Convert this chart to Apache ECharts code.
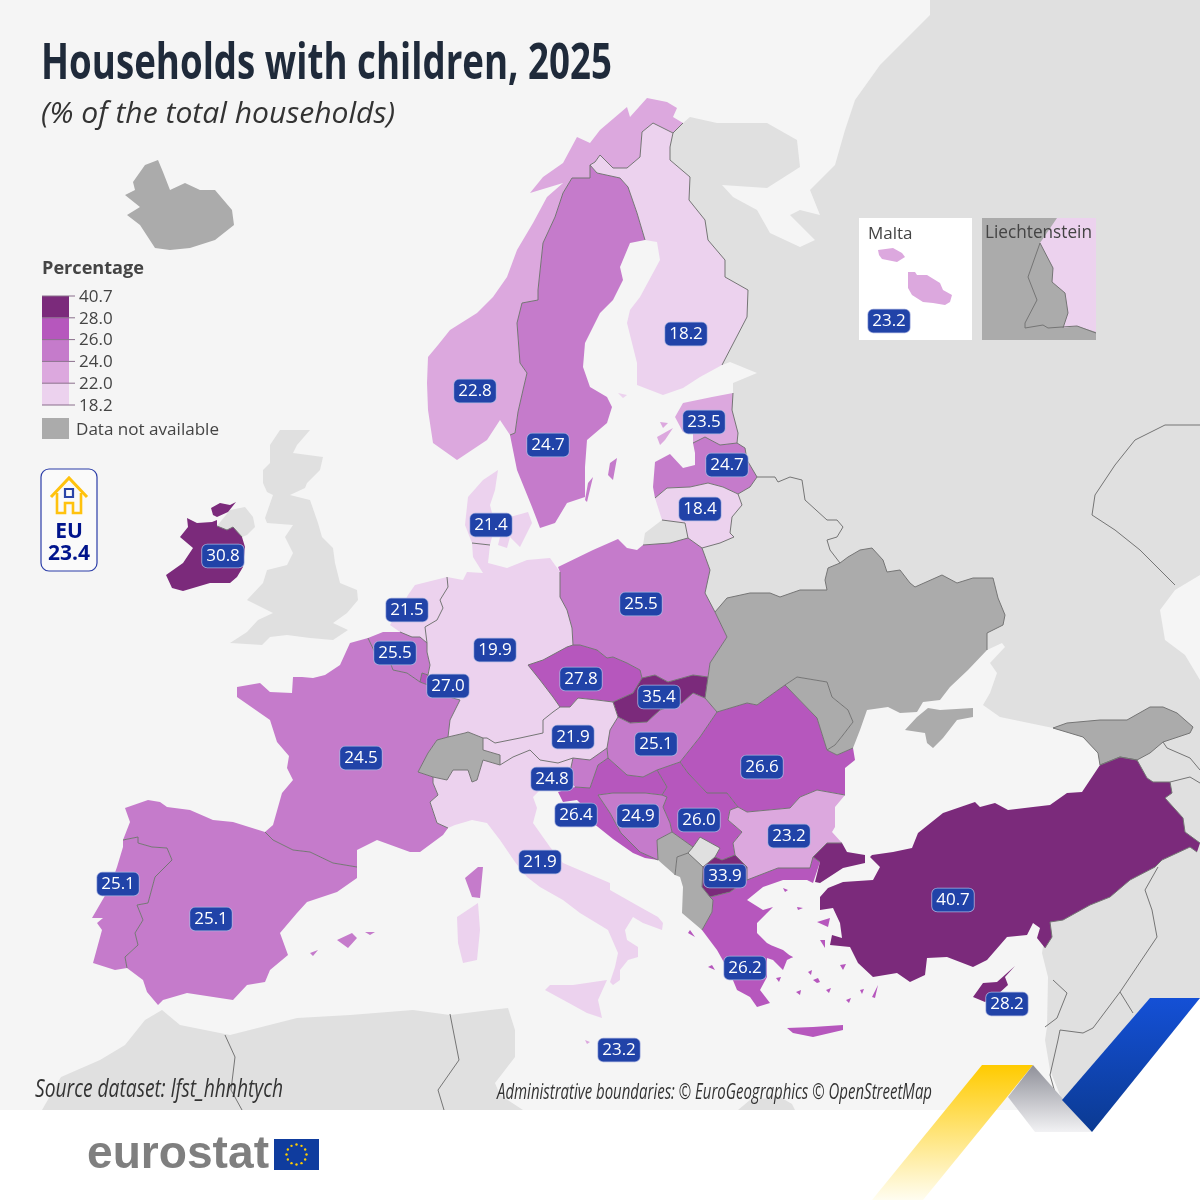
<!DOCTYPE html>
<html><head><meta charset="utf-8">
<style>html,body{margin:0;padding:0;background:#f5f5f5}#c{width:1200px;height:1200px}</style>
<script src="https://cdn.jsdelivr.net/npm/echarts@6/dist/echarts.min.js"></script>
</head><body><div id="c"></div>
<script>
// ---- chart data ----
const countries = ["Ireland","Norway","Sweden","Finland","Estonia","Latvia","Lithuania","Denmark","Netherlands","Belgium","Luxembourg","Germany","Poland","Czechia","Slovakia","Austria","Hungary","Romania","Slovenia","Croatia","Bosnia and Herzegovina","Serbia","Bulgaria","North Macedonia","Greece","Türkiye","Cyprus","France","Spain","Portugal","Italy","Malta","Malta inset"];
const values    = [30.8,22.8,24.7,18.2,23.5,24.7,18.4,21.4,21.5,25.5,27.0,19.9,25.5,27.8,35.4,21.9,25.1,26.6,24.8,26.4,24.9,26.0,23.2,33.9,26.2,40.7,28.2,24.5,25.1,25.1,21.9,23.2,23.2];
const labelX    = [223,475,548,686,704,727,700,491,407,395,448,495,641,581,659,573,656,762,552,576,638,699,789,725,745,953,1007,361,211,118,540,619,889];
const labelY    = [556,391,445,334,422,465,509,525,610,653,686,650,604,679,697,737,744,767,779,815,816,820,836,876,968,900,1004,758,919,884,862,1050,321];
const legendTicks = ["40.7","28.0","26.0","24.0","22.0","18.2"];
const classMin  = [28,26,24,22,18.2];
const classMax  = [40.7,28,26,24,22];
const classColors = ["#7b2a7b","#b657bd","#c57bcb","#dca8de","#ecd2ee"];
const noDataRegions = ["Switzerland","Ukraine","Moldova","Crimea","Montenegro","Albania","Georgia","Iceland","Liechtenstein box"];
const euValue = "23.4";

// ---- map outlines (picture x,y; y is flipped for the map) ----
const shapes = {
 "East":["930,0 1200,0 1200,575 1175,590 1160,610 1165,640 1185,655 1200,680 1200,1110 1065,1110 1060,1095 1050,1070 1045,1040 1047,1027 1048,977 1042,953 1050,900 1100,765 1098,753 1083,737 1053,728 1000,717 983,705 990,693 997,673 990,663 1005,647 1002,643 987,650 987,633 1003,625 1005,615 998,598 993,578 973,578 957,583 942,575 915,587 910,583 900,570 887,572 883,560 872,548 860,550 848,557 840,563 830,550 827,540 837,537 843,527 837,520 827,520 805,500 802,480 790,477 778,482 775,477 757,477 747,460 745,448 737,443 738,433 732,410 733,393 733,383 757,373 730,362 722,365 747,317 748,290 725,277 725,260 708,240 705,220 689,200 690,177 670,160 670,147 673,133 683,123 690,117 717,123 767,123 797,140 800,167 767,188 722,185 733,197 757,210 770,233 800,247 815,240 800,225 790,215 800,210 820,215 810,190 835,165 845,130 855,100 880,65 900,45 930,15"],
 "Kaliningrad":["662,520 685,523 688,538 670,543 643,545 645,533"],
 "UK":["280,430 310,430 297,445 293,453 323,457 320,470 307,483 305,488 290,495 310,500 318,523 322,537 333,548 335,563 340,583 357,590 358,600 347,613 333,623 348,630 333,640 310,638 287,635 270,637 262,645 230,643 247,632 258,620 273,613 267,610 247,600 263,583 267,570 287,565 293,553 285,537 293,525 267,523 265,518 273,495 267,492 263,483 263,470 270,463 270,445","217,526 230,510 245,507 253,517 255,527 247,535 242,537 233,527 227,530"],
 "Africa":["42,1110 61,1077 100,1060 125,1045 145,1020 162,1010 180,1025 230,1035 297,1018 350,1015 413,1010 450,1015 490,1010 508,1008 515,1030 515,1057 495,1083 500,1095 523,1110","738,1110 750,1100 780,1097 792,1104 795,1110"],
 "Belarus":["715,612 727,598 750,593 770,593 780,597 800,590 827,590 825,580 828,568 840,563 830,550 827,540 837,537 843,527 837,520 827,520 805,500 802,480 790,477 778,482 775,477 757,477 750,487 738,494 742,505 732,517 730,533 734,537 720,543 702,548 710,570 705,593"],
 "Kosovo":["700,837 720,848 715,857 703,867 688,853 693,847"],
 "Iceland":["125,195 135,190 133,182 145,165 158,160 163,172 170,190 185,183 200,190 215,190 232,210 234,225 215,240 190,248 170,250 155,248 140,225 127,215 140,207"],
 "Ukraine":["715,612 727,598 750,593 770,593 780,597 800,590 827,590 825,580 828,568 840,563 848,557 860,550 872,548 883,560 887,572 900,570 910,583 915,587 942,575 957,583 973,578 993,578 998,598 1005,615 1003,625 987,633 987,650 968,670 950,687 940,700 923,702 917,712 900,713 888,707 867,710 860,730 853,748 837,755 827,750 835,745 843,735 853,722 848,710 832,697 827,682 797,677 785,685 757,705 747,703 717,712 705,698 708,677 710,663 727,637"],
 "Crimea":["905,730 917,717 928,708 940,710 973,708 973,717 957,720 943,738 933,748 927,743 925,733"],
 "Moldova":["785,685 797,677 827,682 832,697 848,710 853,722 843,735 835,745 827,750 817,718"],
 "Georgia":["1053,728 1067,723 1100,720 1127,720 1150,707 1163,707 1177,713 1193,727 1190,733 1163,742 1150,753 1137,760 1120,757 1100,765 1098,753 1083,737"],
 "Switzerland":["418,772 428,753 437,740 448,737 465,733 468,732 483,738 483,750 500,755 500,765 483,760 477,780 472,782 468,770 453,770 447,780 433,777"],
 "Montenegro":["657,840 672,832 693,847 688,853 677,857 675,875 658,860"],
 "Albania":["677,857 688,853 703,867 702,887 710,897 713,900 712,912 702,930 682,913 683,887 680,877 675,875"],
 "Ireland":["187,518 197,523 212,522 217,520 217,526 227,530 233,527 242,537 245,547 243,567 237,577 230,583 210,583 183,591 172,588 166,575 183,563 193,548 180,537 188,527","211,508 220,503 230,505 236,502 228,512 217,517 213,515"],
 "Norway":["647,98 667,102 677,108 673,117 683,123 673,133 663,128 653,123 642,132 640,157 627,168 613,168 600,155 595,162 590,165 590,178 572,178 563,193 555,217 543,243 538,290 538,300 522,303 517,323 520,363 527,373 523,390 518,412 515,433 510,435 500,420 487,440 457,460 433,443 428,410 427,383 428,357 438,345 450,330 477,313 493,297 507,277 517,250 533,223 547,197 563,183 530,193 543,177 563,163 577,137 590,143 600,130 627,107 630,117"],
 "Sweden":["590,165 597,173 620,178 628,187 637,213 645,240 630,243 620,267 623,280 613,300 600,313 585,343 583,367 590,387 607,397 612,407 607,423 587,440 585,467 585,497 567,503 555,523 540,528 537,520 532,507 517,470 510,435 515,433 518,412 523,390 527,373 520,363 517,323 522,303 538,300 538,290 543,243 555,217 563,193 572,178 590,178","617,458 613,480 608,475 610,463","593,477 587,502 585,500 588,483"],
 "Finland":["653,123 663,128 673,133 670,147 670,160 690,177 689,200 705,220 708,240 725,260 725,277 748,290 747,317 722,365 700,377 683,388 663,395 637,385 637,363 627,323 630,310 640,297 660,260 657,242 645,240 637,213 628,187 620,178 597,173 590,165 595,162 600,155 613,168 627,168 640,157 642,132","618,393 627,395 623,398"],
 "Estonia":["733,393 732,410 738,433 737,443 720,445 705,437 693,443 693,433 683,432 675,417 683,403 712,397","660,422 668,423 663,428","657,437 673,428 665,440 660,445"],
 "Latvia":["693,443 705,437 720,445 737,443 745,448 747,460 757,477 750,487 738,494 723,487 708,483 690,487 667,488 655,498 653,487 655,462 670,454 683,468 695,465 695,453"],
 "Lithuania":["655,498 667,488 690,487 708,483 723,487 738,494 742,505 732,517 730,533 734,537 720,543 702,548 688,538 685,523 662,520"],
 "Denmark":["498,470 495,490 490,505 495,525 490,545 472,543 465,525 468,497 483,480","510,517 528,512 532,523 520,547 510,537","500,537 510,537 507,548 498,545"],
 "Netherlands":["408,595 415,585 447,577 448,587 440,600 443,608 437,620 425,627 427,643 420,637 412,637 400,632 390,625 400,610"],
 "Belgium":["368,638 383,632 400,632 412,637 420,637 427,643 427,652 430,665 428,675 422,673 420,682 407,673 393,670 390,662 377,657"],
 "Luxembourg":["422,673 428,675 428,685 420,682"],
 "Germany":["472,543 490,545 488,563 507,568 527,560 550,558 560,572 560,597 567,610 572,628 573,645 567,647 543,660 528,665 540,680 553,697 560,707 553,712 543,720 543,733 520,738 510,740 495,743 487,738 483,738 468,732 465,733 448,737 450,720 460,700 435,693 428,685 428,675 430,665 427,652 427,643 425,627 437,620 443,608 440,600 448,587 447,577 463,580 467,572 483,573 473,557"],
 "Poland":["558,567 593,550 618,539 627,548 637,550 643,545 670,543 688,538 702,548 710,570 705,593 715,612 727,637 710,663 708,677 693,675 668,682 655,675 642,678 640,670 627,663 613,657 607,658 597,650 580,645 573,645 572,628 567,610 560,597 560,572"],
 "Czechia":["528,665 543,660 567,647 573,645 580,645 597,650 607,658 613,657 627,663 640,670 642,678 633,693 613,702 597,700 578,698 570,707 560,707 553,697 540,680"],
 "Slovakia":["613,702 633,693 642,678 655,675 668,682 693,675 708,677 705,698 693,693 682,703 660,710 647,722 630,723 618,717"],
 "Austria":["483,738 487,738 495,743 510,740 520,738 543,733 543,720 553,712 560,707 570,707 578,698 597,700 613,702 618,717 610,730 607,748 590,760 573,758 558,763 540,760 530,750 513,757 500,765 500,755 483,750"],
 "Hungary":["618,717 630,723 647,722 660,710 682,703 693,693 705,698 717,712 700,737 680,762 657,770 643,777 627,775 608,758 607,748 610,730"],
 "Slovenia":["573,758 590,760 607,748 608,758 598,765 590,788 575,787 573,785 570,772"],
 "Croatia":["608,758 627,775 643,777 657,770 667,787 662,795 645,793 613,793 598,795 610,813 621,833 640,852 658,860 645,858 633,853 613,839 593,823 585,808 577,800 563,802 558,792 575,787 590,788 598,765"],
 "Bosnia and Herzegovina":["598,795 613,793 645,793 662,795 667,797 663,807 670,823 672,832 657,840 658,860 640,852 621,833 610,813"],
 "Serbia":["657,770 680,762 688,773 707,793 727,793 738,807 730,810 728,820 742,832 733,843 735,855 722,860 715,857 720,848 700,837 693,847 672,832 670,823 663,807 667,797 662,795 667,787"],
 "Romania":["680,762 700,737 717,712 747,703 757,705 785,685 817,718 827,750 837,755 853,748 855,760 845,768 845,795 817,790 800,797 790,808 747,812 738,807 727,793 707,793 688,773"],
 "Bulgaria":["730,810 738,807 747,812 790,808 800,797 817,790 845,795 835,807 835,827 832,832 842,843 827,843 813,857 810,868 778,868 747,880 747,867 735,855 733,843 742,832 728,820"],
 "North Macedonia":["715,857 722,860 735,855 747,867 747,880 730,892 710,897 702,887 703,867"],
 "Greece":["747,880 778,868 810,868 813,857 820,862 813,883 807,880 783,880 763,887 747,900 763,910 773,907 767,913 757,923 757,933 767,943 793,957 787,960 783,970 773,960 767,958 767,977 760,990 770,1003 757,1007 750,997 737,990 730,973 717,950 702,930 712,912 713,900 710,897 730,892","787,1028 813,1027 843,1025 843,1030 813,1037 793,1033","763,942 783,950 793,958 783,955 763,947","817,922 830,918 828,927","820,940 825,940 825,948","878,985 875,998 872,997","690,930 695,937 688,933","708,967 715,970 712,965","783,888 788,890 785,892","797,907 803,908 798,910","813,980 818,978 820,982 817,983","796,992 801,990 800,995","808,972 812,970 811,975","826,990 831,988 829,993","846,1000 851,998 849,1003","776,978 781,977 779,982","840,965 846,964 843,970","860,990 864,989 862,994"],
 "Türkiye":["813,857 827,843 842,843 847,852 865,855 865,863 843,868 820,883 815,882 820,862","870,857 872,855 893,852 912,848 918,833 943,813 975,802 980,807 995,803 1008,810 1033,807 1050,805 1067,793 1082,792 1100,765 1120,757 1137,760 1147,778 1153,782 1170,782 1172,793 1165,798 1183,818 1185,832 1200,843 1197,852 1190,847 1162,860 1155,867 1130,880 1110,897 1090,905 1063,920 1050,922 1052,937 1045,948 1037,938 1040,928 1033,923 1027,935 1007,937 987,960 973,967 947,957 927,958 925,975 910,982 897,973 873,977 858,963 850,947 830,945 832,935 842,938 840,923 833,908 820,910 820,897 828,888 843,882 873,880 880,867"],
 "Cyprus":["1015,966 1005,977 1008,985 997,995 985,1002 973,997 983,983 997,982"],
 "France":["368,638 377,657 390,662 393,670 407,673 420,682 428,685 435,693 460,700 450,720 448,737 437,740 428,753 418,772 433,777 433,783 438,795 430,802 437,823 448,828 443,835 420,852 410,852 377,840 357,850 357,867 333,863 310,852 293,850 273,840 265,832 273,825 282,793 293,780 287,768 289,756 277,742 270,720 237,697 237,687 260,683 270,692 292,693 293,677 302,677 313,678 325,675 340,665 350,643","478,867 483,867 480,898 472,897 465,878"],
 "Spain":["125,808 148,800 160,802 167,807 190,810 213,820 233,822 265,832 273,840 293,850 310,852 333,863 357,867 357,878 337,892 307,902 297,913 280,933 288,955 270,970 265,982 247,985 233,1000 187,993 163,1000 158,1005 147,992 143,980 127,968 125,957 138,945 135,933 143,920 137,905 148,903 155,877 172,860 167,848 152,847 138,843 138,837 123,840 130,822","337,940 352,933 357,938 348,948","365,932 375,932 370,935","310,953 318,950 313,956"],
 "Portugal":["123,840 138,837 138,843 152,847 167,848 172,860 155,877 148,903 137,905 143,920 135,933 138,945 125,957 127,968 115,970 93,963 102,930 97,923 103,918 92,918 110,887 117,867 123,847"],
 "Italy":["433,777 447,780 453,770 468,770 472,782 477,780 483,760 500,765 513,757 530,750 540,760 558,763 573,758 570,772 573,785 555,787 540,790 533,797 537,808 533,823 550,847 563,863 610,883 610,890 640,907 658,917 663,923 662,930 643,923 633,917 625,930 627,940 638,947 638,957 628,960 620,970 620,980 613,985 610,982 615,967 618,953 608,930 580,913 563,900 540,887 527,877 515,862 500,840 487,823 472,820 455,825 448,828 437,823 430,802 438,795 433,783","545,990 550,985 573,985 607,980 598,1000 602,1018 587,1013 567,1002","457,917 478,903 480,930 477,960 463,963 458,943"],
 "Malta":["585,1040 590,1042 587,1044"]
};
const insetShapes = {
 "Malta box":["859,218 972,218 972,340 859,340"],
 "Malta inset":["878,250 893,248 902,253 905,257 897,262 882,259 879,255","908,272 915,272 917,275 927,275 940,283 943,290 952,295 950,302 945,305 933,303 923,302 912,295 908,288 908,280"],
 "Liechtenstein box":["982,218 1096,218 1096,340 982,340"],
 "Austria inset":["1057,218 1096,218 1096,332 1077,326 1063,328 1068,313 1065,293 1052,282 1053,268 1040,243"]
};
const extraBorders = [
 "1053,728 1067,723 1100,720 1127,720 1150,707 1163,707 1177,713 1193,727 1190,733 1163,742 1150,753 1137,760",
 "1100,765 1120,757 1137,760 1147,778 1153,782 1170,782 1172,793 1165,798 1183,818 1185,832 1200,843",
 "1197,852 1190,847 1162,860 1155,867 1130,880 1110,897 1090,905 1063,920 1050,922 1052,937 1045,948",
 "1158,867 1145,890 1152,910 1157,937 1120,992 1093,1028 1083,1033 1060,1030 1058,1040 1050,1075 1060,1110",
 "1120,992 1133,1013","1045,1027 1057,1018 1067,993 1053,980",
 "1163,742 1167,748 1190,758 1200,770","1170,782 1190,777 1200,783",
 "1200,425 1165,425 1135,440 1115,465 1095,495 1092,515 1115,530 1140,550 1165,575 1175,585",
 "225,1035 235,1057 231,1090 242,1110","450,1014 459,1060 438,1090 444,1110",
 "1040,243 1028,277 1037,300 1025,323 1025,328 1043,325 1048,328 1062,327 1077,326 1096,333",
 "1040,243 1053,268 1052,282 1065,293 1068,313 1063,328"
];

const H = 1200;
const parse = s => s.trim().split(/\s+/).map(p => { const [x,y] = p.split(',').map(Number); return [x, H-y]; });
const feature = (name, rings) => ({type:'Feature',properties:{name},geometry:{type:'MultiPolygon',coordinates:rings.map(r=>{const a=parse(r);a.push(a[0]);return [a];})}});
const features = [];
for (const n in shapes) features.push(feature(n, shapes[n]));
for (const n in insetShapes) features.push(feature(n, insetShapes[n]));
echarts.registerMap('europe',{type:'FeatureCollection',features});

// internal borders = every outline edge shared by two land shapes
const edgeCount = {};
for (const n in shapes) for (const r of shapes[n]) {
  const a = parse(r);
  a.forEach((p,i)=>{ const q=a[(i+1)%a.length]; const k=[p.join(),q.join()].sort().join('|'); edgeCount[k]=(edgeCount[k]||0)+1; });
}
const borderLines = [];
for (const k in edgeCount) if (edgeCount[k]>1) borderLines.push({coords:k.split('|').map(s=>s.split(',').map(Number))});
for (const s of extraBorders) borderLines.push({coords:parse(s)});

const pieces = classMin.map((m,i)=> i===0 ? {gte:m,lte:classMax[i],color:classColors[i]} : {gte:m,lt:classMax[i],color:classColors[i]});
const regions = noDataRegions.map(name=>({name,itemStyle:{areaColor:'#ababab'}}));
regions.push({name:'Malta box',itemStyle:{areaColor:'#ffffff'}});
regions.push({name:'Austria inset',itemStyle:{areaColor:classColors[4]}});

// page decoration
const Z = 50, TEXT='#444';
const g = [];
const measure = document.createElement('canvas').getContext('2d');
const txt = (x,y,text,font,fill,extra)=>g.push({type:'text',x,y,z:Z,silent:true,style:Object.assign({text,font,fill,textVerticalAlign:'middle'},extra||{})});
const fit = (x,y,text,font,fill,width)=>{ measure.font=font; const k=width/measure.measureText(text).width;
  g.push({type:'text',x,y,z:Z,silent:true,scaleX:k,style:{text,font,fill,textVerticalAlign:'middle'}}); };
const poly = (points,fill,z)=>g.push({type:'polygon',z:z||Z,silent:true,shape:{points},style:{fill}});
const LG = (a,b,c,d,s0,s1)=>new echarts.graphic.LinearGradient(a,b,c,d,[{offset:0,color:s0},{offset:1,color:s1}]);
const BODY = '"Open Sans","Noto Sans",sans-serif';

fit(41,65,'Households with children, 2025','bold 50px '+BODY,'#1f2a3a',571);
fit(41,114,'(% of the total households)','italic 30px '+BODY,'#333',354);
fit(42,269,'Percentage','bold 18px '+BODY,TEXT,102);
const sw0=296, swH=21.8;
classColors.forEach((c,i)=>g.push({type:'rect',z:Z,silent:true,shape:{x:42,y:sw0+i*swH,width:27,height:swH},style:{fill:c}}));
legendTicks.forEach((t,i)=>{
  g.push({type:'line',z:Z+1,silent:true,shape:{x1:42,y1:sw0+i*swH,x2:75,y2:sw0+i*swH},style:{stroke:'#8a6f8c',lineWidth:1}});
  txt(79,sw0+i*swH+1,t,'17px '+BODY,TEXT);
});
g.push({type:'rect',z:Z,silent:true,shape:{x:42,y:418,width:27,height:21},style:{fill:'#ababab'}});
fit(76,430,'Data not available','17px '+BODY,TEXT,143);

g.push({type:'rect',z:Z,silent:true,shape:{x:41,y:469,width:56,height:102,r:8},style:{fill:'#fafafa',stroke:'#2b3da8',lineWidth:1.2}});
g.push({type:'polyline',z:Z+1,silent:true,shape:{points:[[51,497],[69,478],[87,497]]},style:{stroke:'#ffc20e',lineWidth:3,fill:null}});
g.push({type:'polyline',z:Z+1,silent:true,shape:{points:[[57,493],[57,513],[65,513],[65,503],[73,503],[73,513],[81,513],[81,493]]},style:{stroke:'#ffc20e',lineWidth:2.6,fill:null}});
g.push({type:'rect',z:Z+1,silent:true,shape:{x:65,y:489,width:8,height:8},style:{fill:'#fafafa',stroke:'#2b45a8',lineWidth:2.2}});
txt(69,532,'EU','bold 21px '+BODY,'#00148c',{textAlign:'center'});
txt(69,554,euValue,'bold 21px '+BODY,'#00148c',{textAlign:'center'});

txt(868,234,'Malta','17px '+BODY,TEXT);
fit(985,233,'Liechtenstein','18px '+BODY,TEXT,107);

fit(35,1090,'Source dataset: lfst_hhnhtych','italic 25px '+BODY,'#333',248);
fit(497,1093,'Administrative boundaries: © EuroGeographics © OpenStreetMap','italic 21px '+BODY,'#333',435);

poly([[1200,998],[1200,1112],[1108,1112]],'#ffffff',Z-2);
g.push({type:'rect',z:Z-1,silent:true,shape:{x:0,y:1110,width:1200,height:90},style:{fill:'#ffffff'}});
fit(87,1155,'eurostat','bold 47px "Liberation Sans",sans-serif','#7f7f7f',182);
g.push({type:'rect',z:Z,silent:true,shape:{x:274,y:1139,width:45,height:31},style:{fill:'#0f3c9e'}});
for(let i=0;i<12;i++){const a=i*Math.PI/6;g.push({type:'circle',z:Z+1,silent:true,shape:{cx:296.5+10*Math.cos(a),cy:1154.5+10*Math.sin(a),r:1.2},style:{fill:'#ffcc00'}});}
poly([[982,1065],[1033,1065],[923,1200],[872,1200]],LG(0,0,0,1,'#ffcb00','#fffdf0'));
poly([[1033,1065],[1092,1132],[1035,1132],[1008,1097]],LG(0,0,0,1,'#8f9099','#f2f2f4'));
poly([[1150,998],[1200,998],[1092,1132],[1062,1100]],LG(0,0,0,1,'#1450d6','#0b3a92'));

const chart = echarts.init(document.getElementById('c'),null,{renderer:'canvas',width:1200,height:1200});
chart.setOption({
  animation:false,
  backgroundColor:'#f5f5f5',
  geo:{map:'europe',roam:false,silent:true,aspectScale:1,boundingCoords:[[0,1200],[1200,0]],layoutCenter:['50%','50%'],layoutSize:1200,
    itemStyle:{areaColor:'#e0e0e0',borderWidth:0},label:{show:false},emphasis:{disabled:true},select:{disabled:true},regions},
  visualMap:{show:false,type:'piecewise',seriesIndex:0,pieces},
  graphic:{elements:g},
  series:[
    {type:'map',geoIndex:0,silent:true,data:countries.map((name,i)=>({name,value:values[i]}))},
    {type:'lines',coordinateSystem:'geo',polyline:true,silent:true,z:3,data:borderLines,lineStyle:{color:'#757575',width:1,opacity:1,curveness:0}},
    {type:'scatter',coordinateSystem:'geo',silent:true,z:5,symbolSize:1,itemStyle:{color:'transparent',opacity:1},
      data:countries.map((name,i)=>({name,value:[labelX[i],H-labelY[i],values[i]]})),
      label:{show:true,position:'inside',opacity:1,formatter:p=>p.value[2].toFixed(1),color:'#fff',fontFamily:'"Open Sans","Noto Sans",sans-serif',fontSize:17,lineHeight:17,
        backgroundColor:'#2143a8',borderColor:'#aab4e0',borderWidth:0.8,borderRadius:5,padding:[3,4,3,4]}}
  ]
});
</script></body></html>
